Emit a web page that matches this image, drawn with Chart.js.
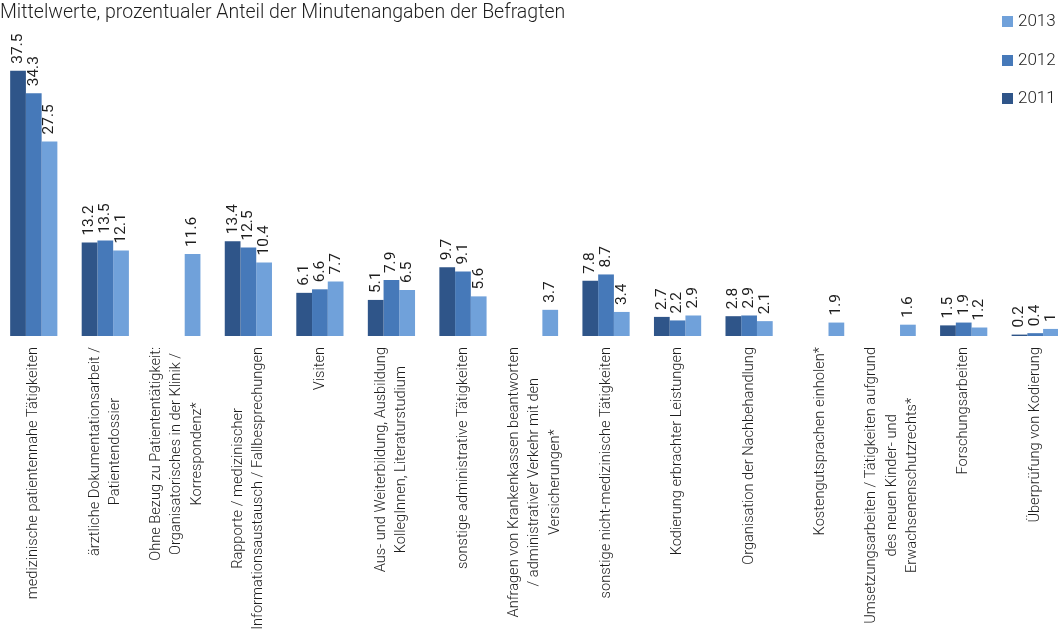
<!DOCTYPE html>
<html>
<head>
<meta charset="utf-8">
<script src="https://cdn.jsdelivr.net/npm/chart.js@4/dist/chart.umd.min.js"></script>
<style>
  html, body {
    margin: 0;
    padding: 0;
    background: #fff;
    overflow: hidden;
  }
  #wrap {
    position: relative;
    width: 1058px;
    height: 631px;
    overflow: hidden;
    font-family: Roboto, 'Liberation Sans', sans-serif;
    font-weight: 300;
    color: #1e1e1e;
  }
  #title {
    position: absolute;
    left: 0;
    top: 0;
    font-size: 19.5px;
    white-space: nowrap;
  }
  #legend {
    position: absolute;
    left: 1002px;
    top: 10px;
    font-size: 17px;
  }
  #legend .item {
    height: 38.5px;
    display: flex;
    align-items: flex-start;
  }
  #legend .swatch {
    width: 11px;
    height: 11px;
    margin: 6px 5px 0 0;
  }
  #chart-box {
    position: absolute;
    left: -2px;
    top: 0;
    width: 1073px;
    height: 631px;
  }
</style>
</head>
<body>
<div id="wrap">
  <div id="chart-box"><canvas id="chart"></canvas></div>
  <div id="title">Mittelwerte, prozentualer Anteil der Minutenangaben der Befragten</div>
  <div id="legend"></div>
</div>
<script>
  // category labels, one entry per line
  const categories = [
    ['medizinische patientennahe Tätigkeiten'],
    ['ärztliche Dokumentationsarbeit /', 'Patientendossier'],
    ['Ohne Bezug zu Patiententätigkeit:', 'Organisatorisches in der Klinik /', 'Korrespondenz*'],
    ['Rapporte / medizinischer', 'Informationsaustausch / Fallbesprechungen'],
    ['Visiten'],
    ['Aus- und Weiterbildung, Ausbildung', 'KollegInnen, Literaturstudium'],
    ['sonstige administrative Tätigkeiten'],
    ['Anfragen von Krankenkassen beantworten', '/ administrativer Verkehr mit den', 'Versicherungen*'],
    ['sonstige nicht-medizinische Tätigkeiten'],
    ['Kodierung erbrachter Leistungen'],
    ['Organisation der Nachbehandlung'],
    ['Kostengutsprachen einholen*'],
    ['Umsetzungsarbeiten / Tätigkeiten aufgrund', 'des neuen Kinder- und', 'Erwachsenenschutzrechts*'],
    ['Forschungsarbeiten'],
    ['Überprüfung von Kodierung']
  ];

  const values2011 = [37.5, 13.2, null, 13.4, 6.1, 5.1, 9.7, null, 7.8, 2.7, 2.8, null, null, 1.5, 0.2];
  const values2012 = [34.3, 13.5, null, 12.5, 6.6, 7.9, 9.1, null, 8.7, 2.2, 2.9, null, null, 1.9, 0.4];
  const values2013 = [27.5, 12.1, 11.6, 10.4, 7.7, 6.5, 5.6, 3.7, 3.4, 2.9, 2.1, 1.9, 1.6, 1.2, 1];

  const seriesLabels = ['2011', '2012', '2013'];
  const seriesColors = ['#2f5589', '#4679b9', '#70a1da'];

  const yMax = 40;
  const plotTop = 53;
  const plotBottom = 336;

  const FONT = 'Roboto, "Liberation Sans", sans-serif';

  const datasets = [values2011, values2012, values2013].map((values, idx) => ({
    label: seriesLabels[idx],
    data: values,
    backgroundColor: seriesColors[idx],
    borderWidth: 0,
    categoryPercentage: 0.66,
    barPercentage: 1
  }));

  // rotated value labels above each bar
  const valueLabelsPlugin = {
    id: 'valueLabels',
    afterDatasetsDraw(chart) {
      const ctx = chart.ctx;
      ctx.save();
      ctx.font = `15.5px ${FONT}`;
      ctx.fillStyle = '#1e1e1e';
      ctx.textAlign = 'left';
      ctx.textBaseline = 'middle';
      chart.data.datasets.forEach((ds, dsIdx) => {
        chart.getDatasetMeta(dsIdx).data.forEach((bar, i) => {
          const v = ds.data[i];
          if (v === null || v === undefined) {
            return;
          }
          ctx.save();
          ctx.translate(bar.x, bar.y - 7);
          ctx.rotate(-Math.PI / 2);
          ctx.fillText(String(v), 0, 0);
          ctx.restore();
        });
      });
      ctx.restore();
    }
  };

  // multi-line rotated category labels, lines centred on each other
  const categoryLabelsPlugin = {
    id: 'categoryLabels',
    afterDraw(chart) {
      const ctx = chart.ctx;
      const xScale = chart.scales.x;
      const lineHeight = 20.5;
      const top = plotBottom + 11;
      ctx.save();
      ctx.font = `300 14.6px ${FONT}`;
      ctx.fillStyle = '#1e1e1e';
      ctx.textAlign = 'center';
      ctx.textBaseline = 'middle';
      categories.forEach((lines, i) => {
        const x = xScale.getPixelForValue(i);
        const maxW = Math.max(...lines.map(l => ctx.measureText(l).width));
        ctx.save();
        ctx.translate(x, top + maxW / 2);
        ctx.rotate(-Math.PI / 2);
        lines.forEach((line, k) => {
          ctx.fillText(line, 0, (k - (lines.length - 1) / 2) * lineHeight);
        });
        ctx.restore();
      });
      ctx.restore();
    }
  };

  function buildLegend() {
    const $legend = document.getElementById('legend');
    seriesLabels.slice().reverse().forEach((label, idx) => {
      const color = seriesColors[seriesLabels.length - 1 - idx];
      const item = document.createElement('div');
      item.className = 'item';
      item.innerHTML = `<span class="swatch" style="background:${color}"></span><span>${label}</span>`;
      $legend.appendChild(item);
    });
  }

  buildLegend();

  new Chart(document.getElementById('chart').getContext('2d'), {
    type: 'bar',
    data: {
      labels: categories.map(c => c.join(' ')),
      datasets
    },
    options: {
      responsive: true,
      maintainAspectRatio: false,
      animation: false,
      layout: {
        padding: { top: plotTop, left: 0, right: 0, bottom: 0 }
      },
      scales: {
        x: {
          grid: { display: false },
          border: { display: false },
          ticks: { display: false },
          afterFit: scale => {
            scale.height = 631 - plotBottom;
          }
        },
        y: {
          display: false,
          min: 0,
          max: yMax
        }
      },
      plugins: {
        legend: { display: false },
        tooltip: { enabled: false }
      }
    },
    plugins: [valueLabelsPlugin, categoryLabelsPlugin]
  });
</script>
</body>
</html>
